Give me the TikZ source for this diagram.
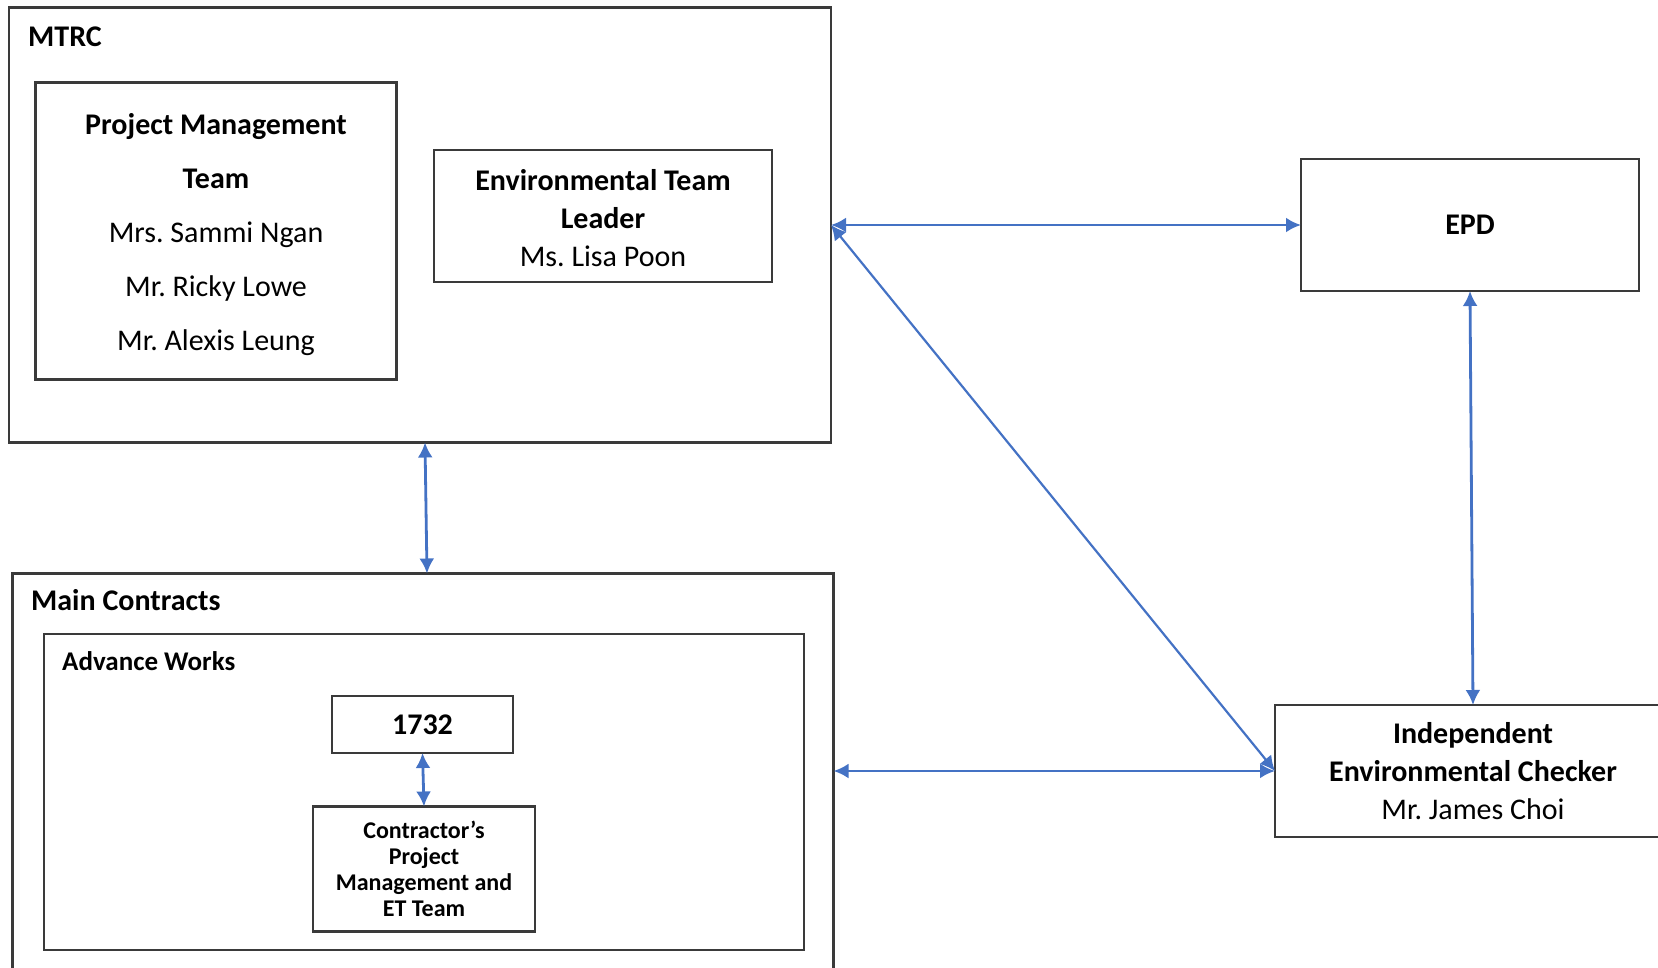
\documentclass[tikz,border=0pt]{standalone}
\usepackage{fontspec}
\setmainfont{Carlito}
\usetikzlibrary{arrows.meta}
\frenchspacing
\definecolor{linkblue}{HTML}{4472C4}
\definecolor{boxgray}{HTML}{3A3A3A}
\tikzset{
  box/.style={draw=boxgray,line width=2.2pt,inner sep=0pt,outer sep=0pt,align=center},
  big/.style={font=\fontsize{30}{38}\selectfont},
  small/.style={font=\fontsize{24}{26}\selectfont\bfseries},
  title/.style={anchor=west,inner sep=0pt,font=\fontsize{30}{36}\selectfont\bfseries},
  link/.style={draw=linkblue,line width=2.8pt,
    arrows={Latex[length=15pt,width=15pt]-Latex[length=15pt,width=15pt]}}
}
\begin{document}
\begin{tikzpicture}[x=1pt,y=-1pt]
\useasboundingbox (0,0) rectangle (1658,968);
% group boxes
\node[box,minimum width=822pt,minimum height=435pt] (MTRC) at (420,225) {};
\node[title] (MTRClbl) at (28,37) {MTRC};
\node[box,minimum width=821pt,minimum height=407pt] (MC) at (423,777) {};
\node[title] (MClbl) at (31,600) {Main Contracts};
\node[box,minimum width=760pt,minimum height=316pt] (AW) at (424,792) {};
\node[title,font=\fontsize{27}{32}\selectfont\bfseries] (AWlbl) at (62,661) {Advance Works};
% boxes
\node[box,minimum width=361pt,minimum height=297pt] (PMT) at (216,231) {};
\node[align=center,font=\fontsize{30}{54}\selectfont] (PMTtxt) at ([yshift=-4pt]PMT.center)
  {\textbf{Project Management}\\\textbf{Team}\\Mrs. Sammi Ngan\\Mr. Ricky Lowe\\Mr. Alexis Leung};
\node[box,minimum width=338pt,minimum height=132pt] (ETL) at (603,216) {};
\node[align=center,big] (ETLtxt) at ([yshift=-2pt]ETL.center)
  {\textbf{Environmental Team}\\\textbf{Leader}\\Ms. Lisa Poon};
\node[box,big,minimum width=338pt,minimum height=132pt] (EPD) at (1470,225) {\textbf{EPD}};
\node[box,big,minimum width=396pt,minimum height=132pt] (IEC) at (1473,771)
  {\textbf{Independent}\\\textbf{Environmental Checker}\\Mr. James Choi};
\node[box,big,minimum width=181pt,minimum height=57pt] (C1732) at (422.5,724.5) {\textbf{1732}};
\node[box,small,minimum width=222pt,minimum height=125pt] (CPM) at (424,869)
  {Contractor’s\\Project\\Management and\\ET Team};
% links
\draw[link] (MTRC.east |- EPD.west) -- (EPD.west);
\draw[link,line width=2.2pt] (MTRC.east |- EPD.west) -- (IEC.west);
\draw[link] ([xshift=5pt]MTRC.south) -- ([xshift=4pt]MC.north);
\draw[link] (EPD.south) -- (IEC.north);
\draw[link] (MC.east |- IEC.west) -- (IEC.west);
\draw[link] (C1732.south) -- (CPM.north);
\end{tikzpicture}
\end{document}
